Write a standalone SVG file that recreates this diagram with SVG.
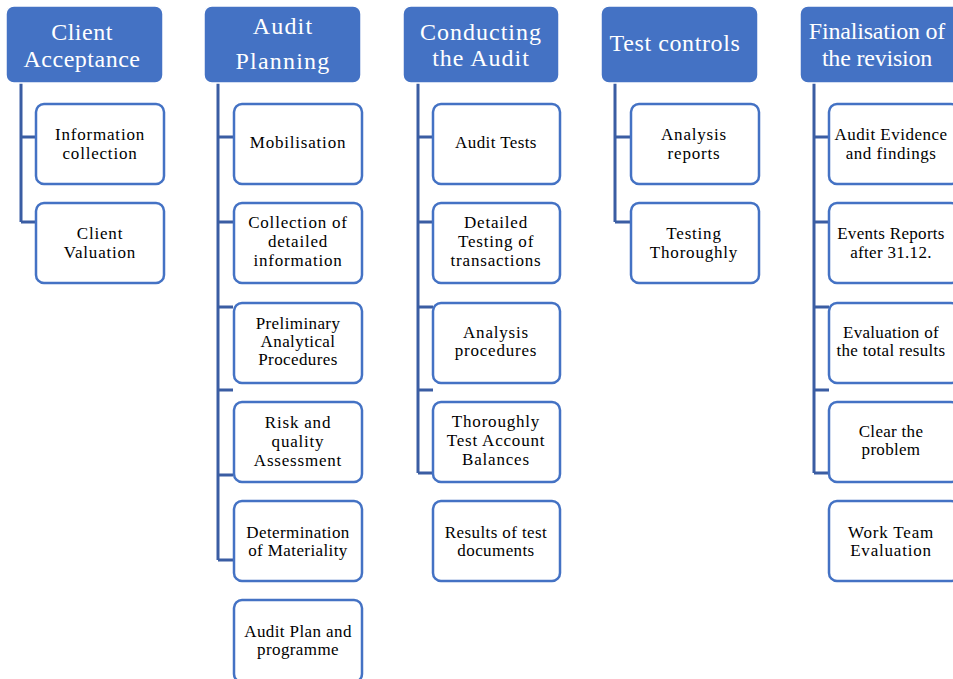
<svg xmlns="http://www.w3.org/2000/svg" width="953" height="679" viewBox="0 0 953 679">
<style>
.hdr{fill:#4472C4;stroke:#ffffff;stroke-width:1.5}
.box{fill:#ffffff;stroke:#4472C4;stroke-width:2.5}
.ht{font-family:"Liberation Serif","Times New Roman",serif;font-size:24px;fill:#ffffff;text-anchor:middle}
.bt{font-family:"Liberation Serif","Times New Roman",serif;font-size:17px;fill:#000000;text-anchor:middle;letter-spacing:0.8px}
.con{fill:none;stroke:#3A5DA3;stroke-width:3}
</style>
<rect width="953" height="679" fill="#ffffff"/>
<g id="connectors" class="con">
<path d="M21 83V222M21 137H35M21 222H35"/>
<path d="M218 83V560M218 137H233M218 222H233M218 307H233M218 390H233M218 475H233M218 560H233"/>
<path d="M418 83V473M418 137H433M418 222H433M418 307H433M418 390H433M418 473H433"/>
<path d="M615 83V222M615 137H631M615 222H631"/>
<path d="M814 83V473M814 137H829M814 222H829M814 307H829M814 390H829M814 473H829"/>
</g>
<g id="h-client"><rect class="hdr" x="6" y="6" width="157" height="77" rx="8"/>
<text class="ht" style="letter-spacing:0.5px"><tspan x="82" y="40">Client</tspan><tspan x="82" y="67">Acceptance</tspan></text></g>
<g id="h-planning"><rect class="hdr" x="204" y="6" width="157" height="77" rx="8"/>
<text class="ht" style="letter-spacing:1.2px"><tspan x="283" y="34">Audit</tspan><tspan x="283" y="69">Planning</tspan></text></g>
<g id="h-conducting"><rect class="hdr" x="403" y="6" width="156" height="77" rx="8"/>
<text class="ht" style="letter-spacing:1px"><tspan x="481" y="40">Conducting</tspan><tspan x="481" y="66">the Audit</tspan></text></g>
<g id="h-test"><rect class="hdr" x="601" y="6" width="157" height="77" rx="8"/>
<text class="ht" style="letter-spacing:0.6px"><tspan x="675" y="51">Test controls</tspan></text></g>
<g id="h-final"><rect class="hdr" x="800" y="6" width="160" height="77" rx="8"/>
<text class="ht" style="letter-spacing:-0.2px"><tspan x="877" y="39">Finalisation of</tspan><tspan x="877" y="66">the revision</tspan></text></g>

<g id="n-info" transform="translate(36,104)"><rect class="box" width="128" height="80" rx="8"/>
<text class="bt"><tspan x="64" y="36">Information</tspan><tspan x="64" y="55">collection</tspan></text></g>
<g id="n-valuation" transform="translate(36,203)"><rect class="box" width="128" height="80" rx="8"/>
<text class="bt"><tspan x="64" y="36">Client</tspan><tspan x="64" y="55">Valuation</tspan></text></g>

<g id="n-mobil" transform="translate(234,104)"><rect class="box" width="128" height="80" rx="8"/>
<text class="bt"><tspan x="64" y="44">Mobilisation</tspan></text></g>
<g id="n-collection" transform="translate(234,203)"><rect class="box" width="128" height="80" rx="8"/>
<text class="bt"><tspan x="64" y="25">Collection of</tspan><tspan x="64" y="44">detailed</tspan><tspan x="64" y="63">information</tspan></text></g>
<g id="n-prelim" transform="translate(234,303)"><rect class="box" width="128" height="80" rx="8"/>
<text class="bt" style="letter-spacing:0.4px"><tspan x="64" y="26">Preliminary</tspan><tspan x="64" y="44">Analytical</tspan><tspan x="64" y="62">Procedures</tspan></text></g>
<g id="n-risk" transform="translate(234,402)"><rect class="box" width="128" height="80" rx="8"/>
<text class="bt"><tspan x="64" y="26">Risk and</tspan><tspan x="64" y="45">quality</tspan><tspan x="64" y="64">Assessment</tspan></text></g>
<g id="n-material" transform="translate(234,501)"><rect class="box" width="128" height="80" rx="8"/>
<text class="bt" style="letter-spacing:0.4px"><tspan x="64" y="37">Determination</tspan><tspan x="64" y="55">of Materiality</tspan></text></g>
<g id="n-plan" transform="translate(234,600)"><rect class="box" width="128" height="82" rx="8"/>
<text class="bt" style="letter-spacing:0.4px"><tspan x="64" y="37">Audit Plan and</tspan><tspan x="64" y="55">programme</tspan></text></g>

<g id="n-tests" transform="translate(433,104)"><rect class="box" width="127" height="80" rx="8"/>
<text class="bt" style="letter-spacing:0.4px"><tspan x="63" y="44">Audit Tests</tspan></text></g>
<g id="n-detailed" transform="translate(433,203)"><rect class="box" width="127" height="80" rx="8"/>
<text class="bt"><tspan x="63" y="25">Detailed</tspan><tspan x="63" y="44">Testing of</tspan><tspan x="63" y="63">transactions</tspan></text></g>
<g id="n-analysis" transform="translate(433,303)"><rect class="box" width="127" height="80" rx="8"/>
<text class="bt"><tspan x="63" y="35">Analysis</tspan><tspan x="63" y="53">procedures</tspan></text></g>
<g id="n-balances" transform="translate(433,402)"><rect class="box" width="127" height="80" rx="8"/>
<text class="bt"><tspan x="63" y="25">Thoroughly</tspan><tspan x="63" y="44">Test Account</tspan><tspan x="63" y="63">Balances</tspan></text></g>
<g id="n-results" transform="translate(433,501)"><rect class="box" width="127" height="80" rx="8"/>
<text class="bt" style="letter-spacing:0.4px"><tspan x="63" y="37">Results of test</tspan><tspan x="63" y="55">documents</tspan></text></g>

<g id="n-reports" transform="translate(631,104)"><rect class="box" width="128" height="80" rx="8"/>
<text class="bt"><tspan x="63" y="36">Analysis</tspan><tspan x="63" y="55">reports</tspan></text></g>
<g id="n-thorough" transform="translate(631,203)"><rect class="box" width="128" height="80" rx="8"/>
<text class="bt"><tspan x="63" y="36">Testing</tspan><tspan x="63" y="55">Thoroughly</tspan></text></g>

<g id="n-evidence" transform="translate(829,104)"><rect class="box" width="130" height="80" rx="8"/>
<text class="bt" style="letter-spacing:0.5px"><tspan x="62" y="36">Audit Evidence</tspan><tspan x="62" y="55">and findings</tspan></text></g>
<g id="n-events" transform="translate(829,203)"><rect class="box" width="130" height="80" rx="8"/>
<text class="bt" style="letter-spacing:0.3px"><tspan x="62" y="36">Events Reports</tspan><tspan x="62" y="55">after 31.12.</tspan></text></g>
<g id="n-evaluation" transform="translate(829,303)"><rect class="box" width="130" height="80" rx="8"/>
<text class="bt" style="letter-spacing:0.3px"><tspan x="62" y="35">Evaluation of</tspan><tspan x="62" y="53">the total results</tspan></text></g>
<g id="n-clear" transform="translate(829,402)"><rect class="box" width="130" height="80" rx="8"/>
<text class="bt" style="letter-spacing:0.3px"><tspan x="62" y="35">Clear the</tspan><tspan x="62" y="53">problem</tspan></text></g>
<g id="n-team" transform="translate(829,501)"><rect class="box" width="130" height="80" rx="8"/>
<text class="bt"><tspan x="62" y="37">Work Team</tspan><tspan x="62" y="55">Evaluation</tspan></text></g>
</svg>
